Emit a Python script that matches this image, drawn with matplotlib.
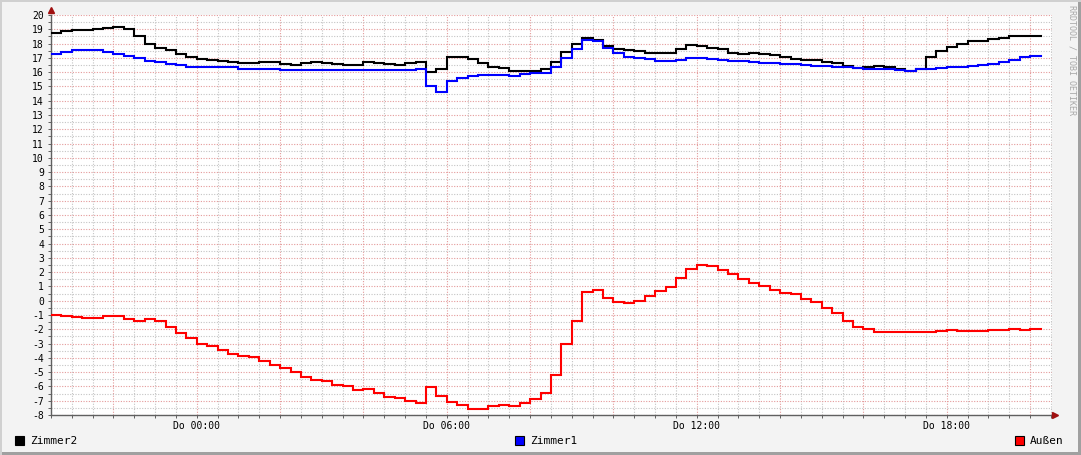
import numpy as np
import matplotlib
matplotlib.use("Agg")
import matplotlib.pyplot as plt
from matplotlib.ticker import MultipleLocator, FuncFormatter
from matplotlib.patches import Rectangle

# data: 15-minute averages, starting Wed 20:30 (hours relative to Do 00:00)
start_hour = -3.5
step_hours = 0.25

zimmer2 = [18.76, 18.86, 18.97, 18.97, 19.04, 19.11, 19.18, 19.04, 18.55, 18.0,
           17.69, 17.53, 17.3, 17.06, 16.94, 16.85, 16.78, 16.71, 16.64, 16.64,
           16.71, 16.71, 16.57, 16.5, 16.66, 16.71, 16.64, 16.57, 16.5, 16.5,
           16.71, 16.64, 16.6, 16.52, 16.66, 16.73, 15.99, 16.22, 17.08, 17.08,
           16.9, 16.66, 16.38, 16.27, 16.1, 16.1, 16.1, 16.24, 16.69, 17.41,
           17.95, 18.39, 18.27, 17.83, 17.64, 17.57, 17.5, 17.36, 17.36, 17.36,
           17.6, 17.92, 17.85, 17.72, 17.6, 17.34, 17.27, 17.36, 17.29, 17.2,
           17.06, 16.94, 16.87, 16.87, 16.73, 16.64, 16.41, 16.29, 16.34, 16.45,
           16.38, 16.2, 16.1, 16.22, 17.06, 17.5, 17.78, 17.97, 18.16, 18.2,
           18.32, 18.41, 18.5, 18.53, 18.53]

zimmer1 = [17.27, 17.41, 17.57, 17.57, 17.57, 17.43, 17.29, 17.15, 16.97, 16.8,
           16.71, 16.57, 16.5, 16.36, 16.36, 16.36, 16.36, 16.36, 16.24, 16.24,
           16.24, 16.24, 16.15, 16.15, 16.15, 16.15, 16.15, 16.15, 16.15, 16.15,
           16.15, 16.13, 16.13, 16.13, 16.13, 16.22, 15.0, 14.63, 15.4, 15.61,
           15.71, 15.78, 15.82, 15.82, 15.73, 15.89, 15.96, 15.96, 16.34, 16.97,
           17.64, 18.27, 18.2, 17.69, 17.36, 17.06, 17.01, 16.94, 16.8, 16.8,
           16.87, 17.01, 16.99, 16.94, 16.83, 16.78, 16.78, 16.73, 16.66, 16.66,
           16.6, 16.55, 16.5, 16.45, 16.41, 16.36, 16.34, 16.27, 16.22, 16.22,
           16.22, 16.15, 16.1, 16.2, 16.24, 16.29, 16.34, 16.38, 16.43, 16.5,
           16.57, 16.71, 16.85, 17.04, 17.13]

aussen = [-0.98, -1.07, -1.14, -1.21, -1.21, -1.05, -1.05, -1.28, -1.40, -1.28,
          -1.40, -1.82, -2.24, -2.61, -3.03, -3.17, -3.43, -3.71, -3.85, -3.94,
          -4.2, -4.48, -4.69, -4.99, -5.34, -5.53, -5.62, -5.88, -5.95, -6.23,
          -6.16, -6.44, -6.72, -6.79, -7.0, -7.14, -6.06, -6.65, -7.07, -7.28,
          -7.56, -7.56, -7.35, -7.28, -7.35, -7.14, -6.86, -6.44, -5.18, -3.03,
          -1.42, 0.63, 0.77, 0.21, -0.07, -0.18, 0.0, 0.35, 0.7, 0.98,
          1.59, 2.24, 2.52, 2.41, 2.17, 1.85, 1.54, 1.26, 1.05, 0.77,
          0.56, 0.45, 0.14, -0.07, -0.49, -0.88, -1.4, -1.82, -1.96, -2.21,
          -2.21, -2.21, -2.21, -2.21, -2.21, -2.1, -2.03, -2.1, -2.1, -2.1,
          -2.05, -2.05, -1.96, -2.05, -1.96]

names = ["Zimmer2", "Zimmer1", "Außen"]
colors = ["#000000", "#0000ff", "#ff0000"]
series = [zimmer2, zimmer1, aussen]
xtick_labels = {0: "Do 00:00", 6: "Do 06:00", 12: "Do 12:00", 18: "Do 18:00"}

mono = "DejaVu Sans Mono"

fig = plt.figure(figsize=(10.81, 4.55), dpi=100, facecolor="#f3f3f3")
W, H = 1081, 455
ax = fig.add_axes([51 / W, 40 / H, 1001 / W, 400 / H])
ax.set_facecolor("white")

for vals, c in zip(series, colors):
    t = start_hour + step_hours * np.arange(len(vals) + 1)
    ax.plot(t, vals + [vals[-1]], drawstyle="steps-post", color=c, lw=1.5,
            solid_joinstyle="miter", zorder=3)

ax.set_xlim(-3.5, 20.525)
ax.set_ylim(-8, 20)

ax.xaxis.set_major_locator(MultipleLocator(2))
ax.xaxis.set_minor_locator(MultipleLocator(0.5))
ax.xaxis.set_major_formatter(FuncFormatter(lambda v, p: xtick_labels.get(int(round(v)), "")))
ax.yaxis.set_major_locator(MultipleLocator(1))
ax.yaxis.set_minor_locator(MultipleLocator(0.5))
ax.yaxis.set_major_formatter(FuncFormatter(lambda v, p: "%d" % round(v)))

dot = (0, (1.0, 1.4))
ax.grid(which="minor", color="#c4c4c4", lw=0.8, linestyle=dot)
ax.grid(which="major", color="#e49a9a", lw=0.8, linestyle=dot)
ax.set_axisbelow(True)

for s in ["top", "right"]:
    ax.spines[s].set_visible(False)
for s in ["left", "bottom"]:
    ax.spines[s].set_color("#606060")
    ax.spines[s].set_linewidth(1.0)

ax.tick_params(which="both", length=2, width=0.7, color="#606060", pad=3)
ax.tick_params(axis="y", labelsize=7, labelcolor="black")
ax.tick_params(axis="x", labelsize=7, labelcolor="black", pad=2)
for lab in ax.get_xticklabels() + ax.get_yticklabels():
    lab.set_family(mono)

# axis arrows
ax.plot([0], [1.012], marker="^", ms=4, color="#a01010", transform=ax.transAxes, clip_on=False, zorder=5)
ax.plot([1.003], [0], marker=">", ms=4, color="#a01010", transform=ax.transAxes, clip_on=False, zorder=5)

# legend
leg_x = [15, 515, 1015]
for x, name, c in zip(leg_x, names, colors):
    fig.add_artist(Rectangle((x / W, (455 - 445) / H), 9 / W, 9 / H, facecolor=c,
                             edgecolor="black", lw=0.8, transform=fig.transFigure))
    fig.text((x + 15) / W, (455 - 441) / H, name, fontsize=8, family=mono,
             va="center", ha="left")

# watermark
fig.text(1072 / W, (455 - 5) / H, "RRDTOOL / TOBI OETIKER", fontsize=6, family=mono,
         color="#a8a8a8", rotation=-90, ha="center", va="top")

# frame shading
fig.add_artist(Rectangle((0, 0), 1, 3 / H, facecolor="#a0a0a0", lw=0, transform=fig.transFigure))
fig.add_artist(Rectangle((1 - 3 / W, 0), 3 / W, 1, facecolor="#a0a0a0", lw=0, transform=fig.transFigure))
fig.add_artist(Rectangle((0, 1 - 2 / H), 1, 2 / H, facecolor="#d0d0d0", lw=0, transform=fig.transFigure))
fig.add_artist(Rectangle((0, 0), 2 / W, 1, facecolor="#d0d0d0", lw=0, transform=fig.transFigure))

fig.savefig("out.png", dpi=100, facecolor=fig.get_facecolor())
